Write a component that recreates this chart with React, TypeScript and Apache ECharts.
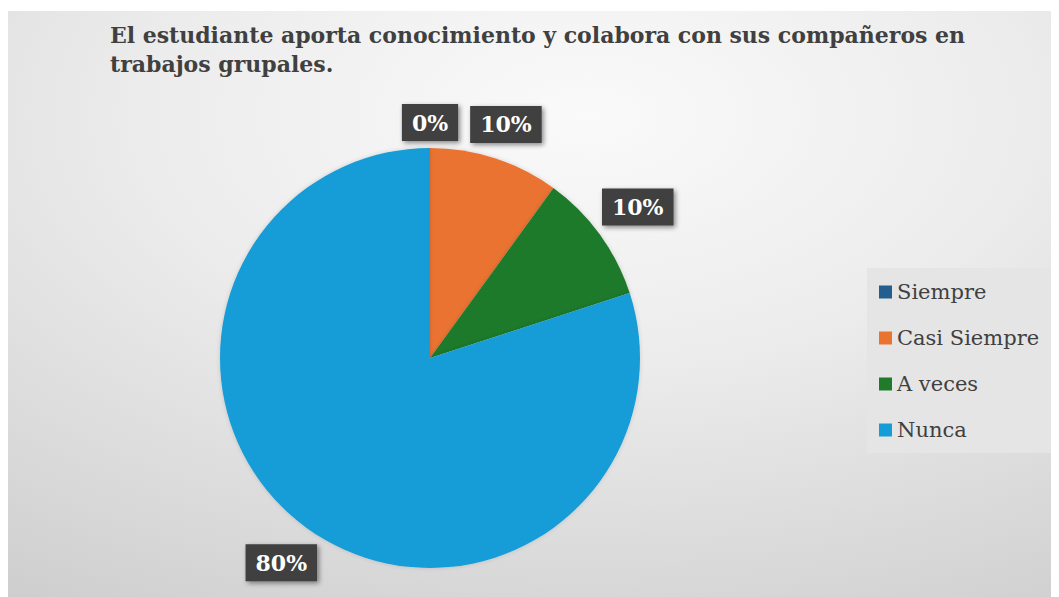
import React, { useEffect, useRef } from "react";
import * as echarts from "echarts";

const categories = ["Siempre", "Casi Siempre", "A veces", "Nunca"];
const values = [0, 10, 10, 80];
const colors = ["#245E8E", "#EB7330", "#1F7A2A", "#169CD6"];
const titleLines = [
  "El estudiante aporta conocimiento y colabora con sus compañeros en",
  "trabajos grupales.",
];

export default function App() {
  const ref = useRef<HTMLDivElement>(null);
  useEffect(() => {
    const el = ref.current!;
    const chart = echarts.init(el, null, { renderer: "svg" });
    const W = 1051;
    const H = 586;
    const fontFamily = "DejaVu Serif";
    const titleSize = 22;
    const canvas = document.createElement("canvas");
    const ctx = canvas.getContext("2d")!;
    ctx.font = `bold ${titleSize}px "DejaVu Serif"`;
    const left = 102;
    const right = 957;
    const words = titleLines[0].split(" ");
    const widths = words.map((w) => ctx.measureText(w).width);
    const total = widths.reduce((a, b) => a + b, 0);
    const gap = Math.max(4, (right - left - total) / (words.length - 1));
    const titleEls: any[] = [];
    let x = left;
    words.forEach((w, i) => {
      titleEls.push({
        type: "text",
        x,
        y: 24,
        style: {
          text: w,
          fontFamily,
          fontSize: titleSize,
          fontWeight: "bold",
          fill: "#404040",
          verticalAlign: "middle",
        },
      });
      x += widths[i] + gap;
    });
    titleEls.push({
      type: "text",
      x: left,
      y: 53,
      style: {
        text: titleLines[1],
        fontFamily,
        fontSize: titleSize,
        fontWeight: "bold",
        fill: "#404040",
        verticalAlign: "middle",
      },
    });

    const cx = 422;
    const cy = 347;
    const r = 210;
    const labelGap = 7;

    const data = categories.map((name, i) => ({
      name,
      value: values[i],
      itemStyle: { color: colors[i] },
    }));

    chart.setOption({
      animation: false,
      graphic: [
        {
          type: "rect",
          z: -10,
          shape: { x: 0, y: 0, width: W, height: H },
          style: {
            fill: new echarts.graphic.RadialGradient(0.55, 0.18, 1.2, [
              { offset: 0, color: "#fafafa" },
              { offset: 0.35, color: "#ececec" },
              { offset: 0.7, color: "#d6d6d6" },
              { offset: 1, color: "#c2c2c2" },
            ]),
          },
        },
        {
          type: "rect",
          z: -9,
          shape: { x: 859, y: 257, width: 200, height: 185 },
          style: { fill: "#e5e5e5" },
        },
        ...titleEls,
      ],
      legend: {
        orient: "vertical",
        left: 871,
        top: 266,
        padding: 0,
        icon: "rect",
        itemWidth: 13,
        itemHeight: 13,
        itemGap: 16,
        data: categories.map((name, i) => ({ name, itemStyle: { color: colors[i] } })),
        textStyle: {
          fontFamily,
          fontSize: 21,
          color: "#404040",
          lineHeight: 30,
        },
      },
      series: [
        {
          type: "pie",
          center: [cx, cy],
          radius: r,
          startAngle: 90,
          clockwise: true,
          avoidLabelOverlap: false,
          label: { show: false },
          labelLine: { show: false },
          emphasis: { disabled: true },
          itemStyle: { shadowBlur: 4, shadowColor: "rgba(0,0,0,0.15)" },
          data,
        },
        {
          type: "pie",
          center: [cx, cy],
          radius: [243, 253],
          startAngle: 90,
          clockwise: true,
          silent: true,
          avoidLabelOverlap: false,
          legendHoverLink: false,
          emphasis: { disabled: true },
          itemStyle: { color: "rgba(0,0,0,0)" },
          labelLine: { show: false },
          labelLayout: (p: any) => {
            const lr = p.labelRect;
            const mx = lr.x + lr.width / 2 - cx;
            const my = lr.y + lr.height / 2 - cy;
            const len = Math.sqrt(mx * mx + my * my) || 1;
            const ux = mx / len;
            const uy = my / len;
            const t =
              r + labelGap + (lr.width / 2) * Math.abs(ux) + (lr.height / 2) * Math.abs(uy);
            return {
              x: cx + t * ux,
              y: cy + t * uy,
              align: "center",
              verticalAlign: "middle",
            };
          },
          label: {
            show: true,
            position: "inside",
            formatter: (p: any) => `${Math.round(p.percent)}%`,
            color: "#ffffff",
            fontFamily,
            fontWeight: "bold",
            fontSize: 22,
            backgroundColor: "#3f3f3f",
            padding: [8, 10, 7, 10],
            shadowBlur: 5,
            shadowColor: "rgba(0,0,0,0.45)",
            shadowOffsetX: 2,
            shadowOffsetY: 2,
          },
          data: categories.map((name, i) => ({ name, value: values[i] })),
        },
      ],
    });
    return () => chart.dispose();
  }, []);
  return <div ref={ref} style={{ width: 1051, height: 586, marginTop: 3 }} />;
}
